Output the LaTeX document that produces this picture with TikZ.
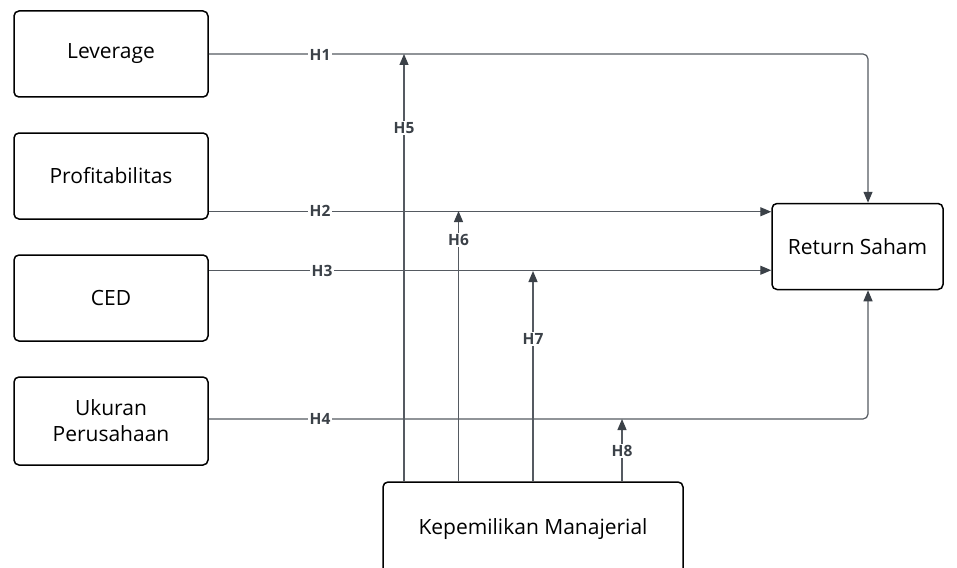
\documentclass[tikz,border=0pt]{standalone}
\usepackage{fontspec}
\setmainfont{Open Sans}
\usetikzlibrary{arrows.meta}
\definecolor{lnc}{HTML}{555A61}
\definecolor{tipc}{HTML}{3B4148}
\tikzset{
  box/.style={draw=black, line width=1.5pt, rounded corners=5pt, fill=white,
    minimum width=194pt, minimum height=86pt, align=center, inner sep=2pt,
    font=\fontsize{21}{26}\selectfont},
  conn/.style={draw=lnc, line width=1.2pt},
  arr/.style={conn, -{Triangle[length=11pt,width=9pt,fill=tipc,color=tipc]}},
  hlab/.style={fill=white, inner sep=1.5pt, font=\fontsize{15.5}{15.5}\bfseries\selectfont, text=tipc}
}
\begin{document}
\begin{tikzpicture}[x=1pt,y=-1pt]
\useasboundingbox (0,0) rectangle (957,567);
\clip (0,0) rectangle (957,567);
% boxes
\node[box] (lev) at (111,54) {Leverage};
\node[box] (prof) at (111,176) {Profitabilitas};
\node[box] (ced) at (111,298) {CED};
\node[box, minimum height=88pt] (uk) at (111,421) {Ukuran\\Perusahaan};
\node[box, minimum width=171pt, minimum height=86pt] (ret) at (857.5,246.5) {Return Saham};
\node[box, minimum width=300pt, minimum height=94pt] (kep) at (533,529) {Kepemilikan Manajerial};
% coordinates on the return box
\coordinate (rtop) at ([xshift=10.5pt]ret.north);
\coordinate (rbot) at ([xshift=10.5pt]ret.south);
% direct paths
\draw[arr, rounded corners=5pt] (lev.east) -| (rtop);
\draw[arr] ([yshift=8pt]prof.south east) -- ([yshift=8pt]prof.south east -| ret.west);
\draw[arr] ([yshift=-16pt]ced.north east) -- ([yshift=-16pt]ced.north east -| ret.west);
\draw[arr, rounded corners=5pt] ([yshift=2pt]uk.east) -| (rbot);
% moderating paths
\draw[arr] ([xshift=-129pt]kep.north) -- ([xshift=-129pt]kep.north |- lev.east);
\draw[arr] ([xshift=-74.5pt]kep.north) -- ([xshift=-74.5pt]kep.north |- 0,211);
\draw[arr] (kep.north) -- (kep.north |- 0,271);
\draw[arr] ([xshift=89pt]kep.north) -- ([xshift=89pt]kep.north |- 0,419);
% labels
\node[hlab] (h1) at (320,55) {H1};
\node[hlab] (h2) at (320,211) {H2};
\node[hlab] (h3) at (322,271) {H3};
\node[hlab] (h4) at (320,419) {H4};
\node[hlab] (h5) at (404,128) {H5};
\node[hlab] (h6) at (458.5,240) {H6};
\node[hlab] (h7) at (533,339) {H7};
\node[hlab] (h8) at (622,451) {H8};
\end{tikzpicture}
\end{document}
